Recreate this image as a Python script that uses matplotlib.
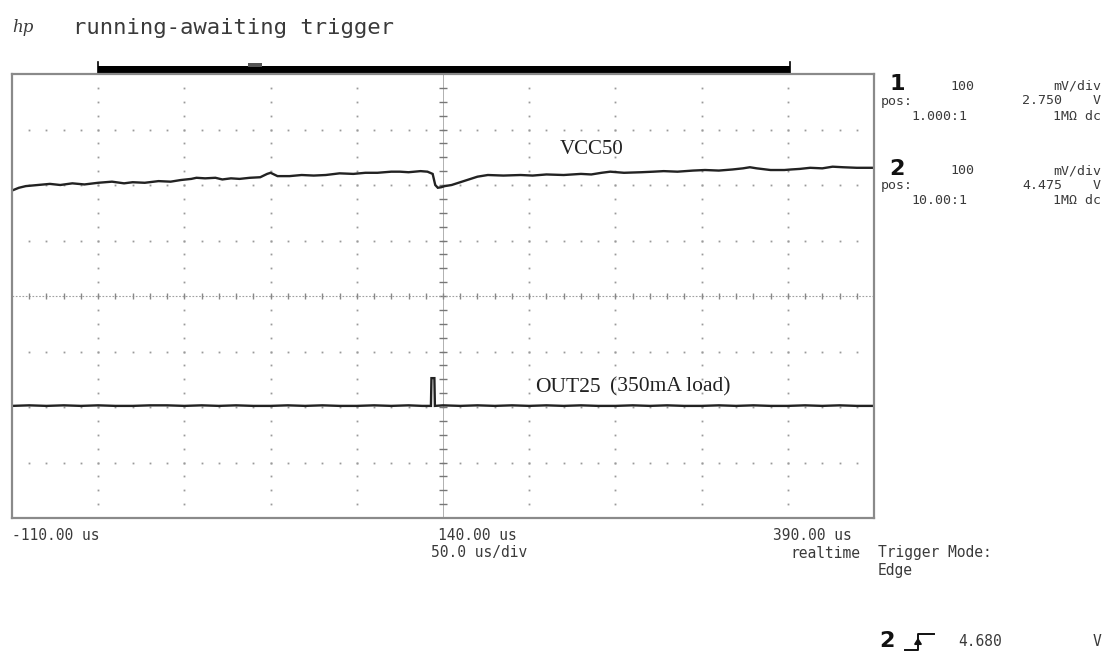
import matplotlib
matplotlib.use('Agg')
import matplotlib.pyplot as plt
from matplotlib.patches import Rectangle, FancyArrow
from matplotlib.lines import Line2D

# ---------------- data (screen divisions, 50 us/div) ----------------
x_range = [-110, 390]
vcc_t = [-110, -106, -102, -95, -88, -82, -75, -68, -60, -52, -45, -40, -33, -25, -18,
         -12, -6, -3, 2, 8, 12, 17, 22, 28, 34, 38, 40, 44, 51, 58, 65, 72, 80, 88, 95,
         102, 110, 115, 120, 127, 131, 134, 135.5, 137, 139, 141, 145, 150, 155, 160, 166,
         175, 185, 192, 200, 210, 220, 226, 232, 237, 245, 255, 262, 268, 276, 285, 292,
         300, 308, 314, 318, 322, 330, 338, 342, 347, 353, 360, 366, 372, 380, 390]
vcc_div = [1.90, 1.95, 1.98, 2.00, 2.02, 2.00, 2.03, 2.01, 2.04, 2.06, 2.03, 2.05, 2.04, 2.07, 2.06,
           2.09, 2.11, 2.13, 2.12, 2.13, 2.10, 2.12, 2.11, 2.13, 2.14, 2.20, 2.22, 2.16, 2.16, 2.18,
           2.17, 2.18, 2.21, 2.20, 2.22, 2.22, 2.24, 2.24, 2.23, 2.25, 2.24, 2.20, 2.00, 1.95, 1.96,
           1.98, 2.00, 2.05, 2.10, 2.15, 2.18, 2.17, 2.18, 2.17, 2.19, 2.18, 2.20, 2.19, 2.22, 2.24,
           2.22, 2.23, 2.24, 2.25, 2.24, 2.26, 2.27, 2.26, 2.28, 2.30, 2.32, 2.30, 2.27, 2.27, 2.28,
           2.29, 2.31, 2.30, 2.33, 2.32, 2.31, 2.31]

out_t = [-110, -100, -90, -80, -70, -60, -50, -40, -30, -20, -10, 0, 10, 20, 30, 40, 50, 60,
         70, 80, 90, 100, 110, 120, 128, 133, 133.3, 135, 135.3, 140, 150, 160, 170, 180, 190,
         200, 210, 220, 230, 240, 250, 260, 270, 280, 290, 300, 310, 320, 330, 340, 350, 360,
         370, 380, 390]
out_div = [-1.98, -1.97, -1.98, -1.97, -1.98, -1.97, -1.98, -1.98, -1.97, -1.97, -1.98, -1.97,
           -1.98, -1.97, -1.98, -1.98, -1.97, -1.98, -1.97, -1.98, -1.98, -1.97, -1.98, -1.97,
           -1.98, -1.98, -1.48, -1.48, -1.98, -1.97, -1.98, -1.97, -1.98, -1.97, -1.98, -1.97,
           -1.98, -1.97, -1.98, -1.98, -1.97, -1.98, -1.97, -1.98, -1.98, -1.97, -1.98, -1.97,
           -1.98, -1.98, -1.97, -1.98, -1.97, -1.98, -1.98]

header = "running-awaiting trigger"
ch_names = ["1", "2"]
ch_scale = ["100", "100"]
ch_pos = ["2.750", "4.475"]
ch_probe = ["1.000:1", "10.00:1"]
time_labels = ["-110.00 us", "140.00 us", "390.00 us"]
timebase = "50.0 us/div"
trig_level = "4.680"

W, H = 1103, 668
GRAY = '#8a8a8a'
TXT = '#3a3a3a'
MONO = 'DejaVu Sans Mono'


def fx(x):
    return x / W


def fy(y):
    return 1 - y / H


fig = plt.figure(figsize=(W / 100, H / 100), dpi=100)
ax = fig.add_axes([fx(12), fy(518), (874 - 12) / W, (518 - 74) / H])
ax.set_xlim(x_range)
ax.set_ylim(-4, 4)
ax.set_xticks([])
ax.set_yticks([])
for s in ax.spines.values():
    s.set_color(GRAY)
    s.set_linewidth(1.6)

# graticule
for t in range(-60, 390, 50):
    if t == 140:
        continue
    ys = [-4 + k * 0.25 for k in range(1, 32)]
    ax.plot([t] * len(ys), ys, ls='none', marker='s', ms=1.3, color='#9a9a9a', mec='none')
for yv in [-3, -2, -1, 1, 2, 3]:
    xs = list(range(-100, 390, 10))
    ax.plot(xs, [yv] * len(xs), ls='none', marker='s', ms=1.3, color='#9a9a9a', mec='none')

# centre axes
ax.plot([140, 140], [-4, 4], color='#b0b0b0', lw=0.7)
ys = [-4 + k * 0.25 for k in range(1, 32)]
ax.plot([140] * len(ys), ys, ls='none', marker='_', ms=6, mew=1.0, color='#777777')
ax.plot(x_range, [0, 0], color='#a0a0a0', lw=0.8, ls=(0, (1.5, 1.5)))
xs = list(range(-100, 390, 10))
ax.plot(xs, [0] * len(xs), ls='none', marker='|', ms=4, mew=1.0, color='#888888')

# traces
ax.plot(vcc_t, vcc_div, color='#222222', lw=1.7, solid_joinstyle='miter')
ax.plot(out_t, out_div, color='#222222', lw=1.7, solid_joinstyle='miter')

ax.text(0.636, 0.829, "VCC50", transform=ax.transAxes, fontsize=15,
        family='Liberation Serif', color='#222222', va='center')
ax.text(0.607, 0.295, "OUT25", transform=ax.transAxes, fontsize=15.5,
        family='Liberation Serif', color='#222222', va='center')
ax.text(0.694, 0.295, "(350mA load)", transform=ax.transAxes, fontsize=15.5,
        family='Liberation Serif', color='#222222', va='center')

# memory bar on top of the frame
ax.add_patch(Rectangle((-60, 4.0), 401, 0.15, color='black', clip_on=False, lw=0))
ax.add_patch(Rectangle((27, 4.12), 8, 0.07, color='#555555', clip_on=False, lw=0))
ax.plot([-60, -60], [4.0, 4.22], color='black', lw=1.2, clip_on=False)
ax.plot([341, 341], [4.0, 4.22], color='black', lw=1.2, clip_on=False)

# header
fig.text(fx(12), fy(28), "hp", fontsize=12, style='italic', family='DejaVu Serif',
         color=TXT, va='center')
fig.text(fx(73), fy(28), header, fontsize=16, family=MONO, color=TXT, va='center')

# channel panel
for i in range(2):
    y0 = 86 + i * 85
    fig.text(fx(889), fy(y0 - 2), ch_names[i], fontsize=16, fontweight='bold',
             family='DejaVu Sans', color='#111111', va='center')
    fig.text(fx(950), fy(y0), ch_scale[i], fontsize=9.5, family=MONO, color=TXT, va='center')
    fig.text(fx(1101), fy(y0), "mV/div", fontsize=9.5, family=MONO, color=TXT, va='center', ha='right')
    fig.text(fx(881), fy(y0 + 15), "pos:", fontsize=9.5, family=MONO, color=TXT, va='center')
    fig.text(fx(1062), fy(y0 + 15), ch_pos[i], fontsize=9.5, family=MONO, color=TXT,
             va='center', ha='right')
    fig.text(fx(1101), fy(y0 + 15), "V", fontsize=9.5, family=MONO, color=TXT, va='center', ha='right')
    fig.text(fx(967), fy(y0 + 30), ch_probe[i], fontsize=9.5, family=MONO, color=TXT,
             va='center', ha='right')
    fig.text(fx(1101), fy(y0 + 30), "1M\u03a9 dc", fontsize=9.5, family=MONO, color=TXT,
             va='center', ha='right')

# time labels
fig.text(fx(12), fy(535), time_labels[0], fontsize=10.5, family=MONO, color=TXT, va='center')
fig.text(fx(438), fy(535), time_labels[1], fontsize=10.5, family=MONO, color=TXT, va='center')
fig.text(fx(852), fy(535), time_labels[2], fontsize=10.5, family=MONO, color=TXT, va='center', ha='right')
fig.text(fx(527), fy(553), timebase, fontsize=10.5, family=MONO, color=TXT, va='center', ha='right')
fig.text(fx(860), fy(553), "realtime", fontsize=10.5, family=MONO, color=TXT, va='center', ha='right')
fig.text(fx(878), fy(553), "Trigger Mode:", fontsize=10.5, family=MONO, color=TXT, va='center')
fig.text(fx(878), fy(570), "Edge", fontsize=10.5, family=MONO, color=TXT, va='center')

# trigger level line
fig.text(fx(879), fy(641), "2", fontsize=16, fontweight='bold', family='DejaVu Sans',
         color='#111111', va='center')
fig.add_artist(Line2D([fx(905), fx(918), fx(918), fx(934)], [fy(650), fy(650), fy(634), fy(634)],
                      color='#111111', lw=1.4))
fig.add_artist(FancyArrow(fx(918), fy(645), 0, (12 / H) * 0.5, width=0.0005, head_width=0.006,
                          head_length=0.008, color='#111111', length_includes_head=True))
fig.text(fx(958), fy(642), trig_level, fontsize=10.5, family=MONO, color=TXT, va='center')
fig.text(fx(1101), fy(642), "V", fontsize=10.5, family=MONO, color=TXT, va='center', ha='right')

fig.savefig('out.png', dpi=100, facecolor='white')
